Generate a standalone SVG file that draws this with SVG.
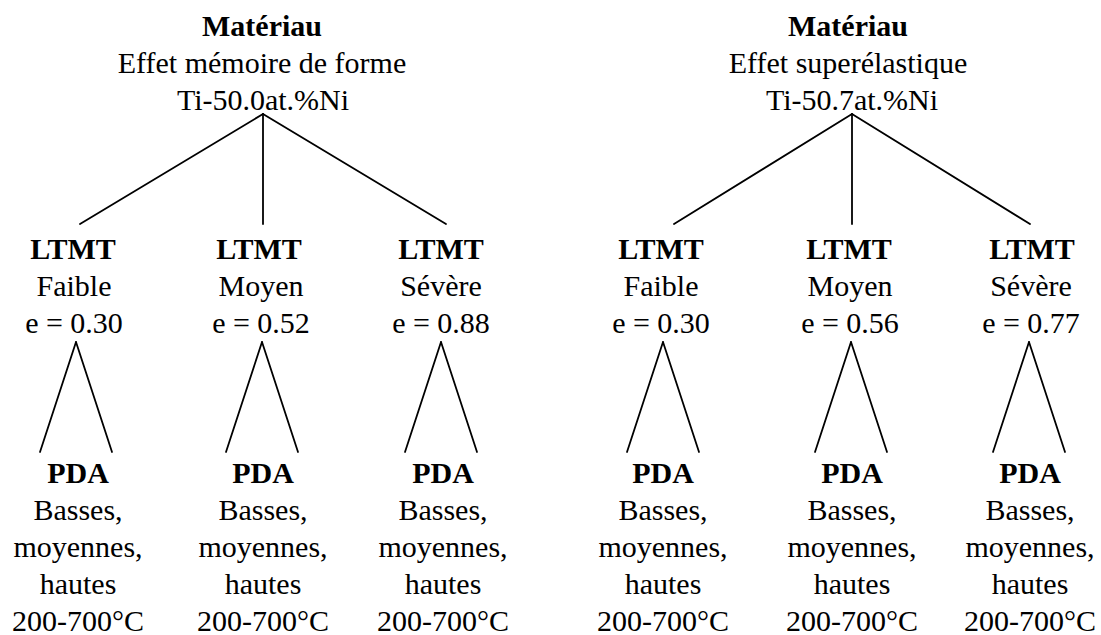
<svg xmlns="http://www.w3.org/2000/svg" width="1101" height="635" viewBox="0 0 1101 635">
<style>
.t text{font-family:Liberation Serif,Times New Roman,Times,serif;font-size:30px;fill:#000;text-anchor:middle}
.b{font-weight:bold}
.c line{stroke:#000;stroke-width:1.8;stroke-linecap:round}
</style>
<rect width="1101" height="635" fill="#fff"/>
<g class="c" id="connectors">
<line x1="263" y1="114" x2="80" y2="224"/>
<line x1="263" y1="114" x2="263" y2="224"/>
<line x1="263" y1="114" x2="446" y2="224"/>
<line x1="852" y1="114" x2="674" y2="224"/>
<line x1="852" y1="114" x2="852" y2="224"/>
<line x1="852" y1="114" x2="1030" y2="224"/>
<line x1="76" y1="342" x2="40" y2="452"/><line x1="76" y1="342" x2="112" y2="452"/>
<line x1="262" y1="342" x2="226" y2="452"/><line x1="262" y1="342" x2="298" y2="452"/>
<line x1="441" y1="342" x2="405" y2="452"/><line x1="441" y1="342" x2="477" y2="452"/>
<line x1="663" y1="342" x2="627" y2="452"/><line x1="663" y1="342" x2="699" y2="452"/>
<line x1="851" y1="342" x2="815" y2="452"/><line x1="851" y1="342" x2="887" y2="452"/>
<line x1="1029" y1="342" x2="993" y2="452"/><line x1="1029" y1="342" x2="1065" y2="452"/>
</g>
<g class="t" font-family="Liberation Serif, serif">
<g id="mat1"><text class="b" x="262" y="36">Matériau</text><text x="262" y="73">Effet mémoire de forme</text><text x="263" y="110">Ti-50.0at.%Ni</text></g>
<g id="mat2"><text class="b" x="848" y="36">Matériau</text><text x="848" y="73">Effet superélastique</text><text x="852" y="110">Ti-50.7at.%Ni</text></g>
<g id="l1"><text class="b" x="73" y="259">LTMT</text><text x="74" y="296">Faible</text><text x="74" y="333">e = 0.30</text></g>
<g id="l2"><text class="b" x="259" y="259">LTMT</text><text x="261" y="296">Moyen</text><text x="261" y="333">e = 0.52</text></g>
<g id="l3"><text class="b" x="441" y="259">LTMT</text><text x="441" y="296">Sévère</text><text x="441" y="333">e = 0.88</text></g>
<g id="l4"><text class="b" x="661" y="259">LTMT</text><text x="661" y="296">Faible</text><text x="661" y="333">e = 0.30</text></g>
<g id="l5"><text class="b" x="849" y="259">LTMT</text><text x="850" y="296">Moyen</text><text x="850" y="333">e = 0.56</text></g>
<g id="l6"><text class="b" x="1032" y="259">LTMT</text><text x="1031" y="296">Sévère</text><text x="1031" y="333">e = 0.77</text></g>
<g id="p1"><text class="b" x="78" y="483">PDA</text><text x="78" y="520">Basses,</text><text x="78" y="557">moyennes,</text><text x="78" y="594">hautes</text><text x="78" y="631">200-700°C</text></g>
<g id="p2"><text class="b" x="263" y="483">PDA</text><text x="263" y="520">Basses,</text><text x="263" y="557">moyennes,</text><text x="263" y="594">hautes</text><text x="263" y="631">200-700°C</text></g>
<g id="p3"><text class="b" x="443" y="483">PDA</text><text x="443" y="520">Basses,</text><text x="443" y="557">moyennes,</text><text x="443" y="594">hautes</text><text x="443" y="631">200-700°C</text></g>
<g id="p4"><text class="b" x="663" y="483">PDA</text><text x="663" y="520">Basses,</text><text x="663" y="557">moyennes,</text><text x="663" y="594">hautes</text><text x="663" y="631">200-700°C</text></g>
<g id="p5"><text class="b" x="852" y="483">PDA</text><text x="852" y="520">Basses,</text><text x="852" y="557">moyennes,</text><text x="852" y="594">hautes</text><text x="852" y="631">200-700°C</text></g>
<g id="p6"><text class="b" x="1030" y="483">PDA</text><text x="1030" y="520">Basses,</text><text x="1030" y="557">moyennes,</text><text x="1030" y="594">hautes</text><text x="1030" y="631">200-700°C</text></g>
</g>
</svg>
